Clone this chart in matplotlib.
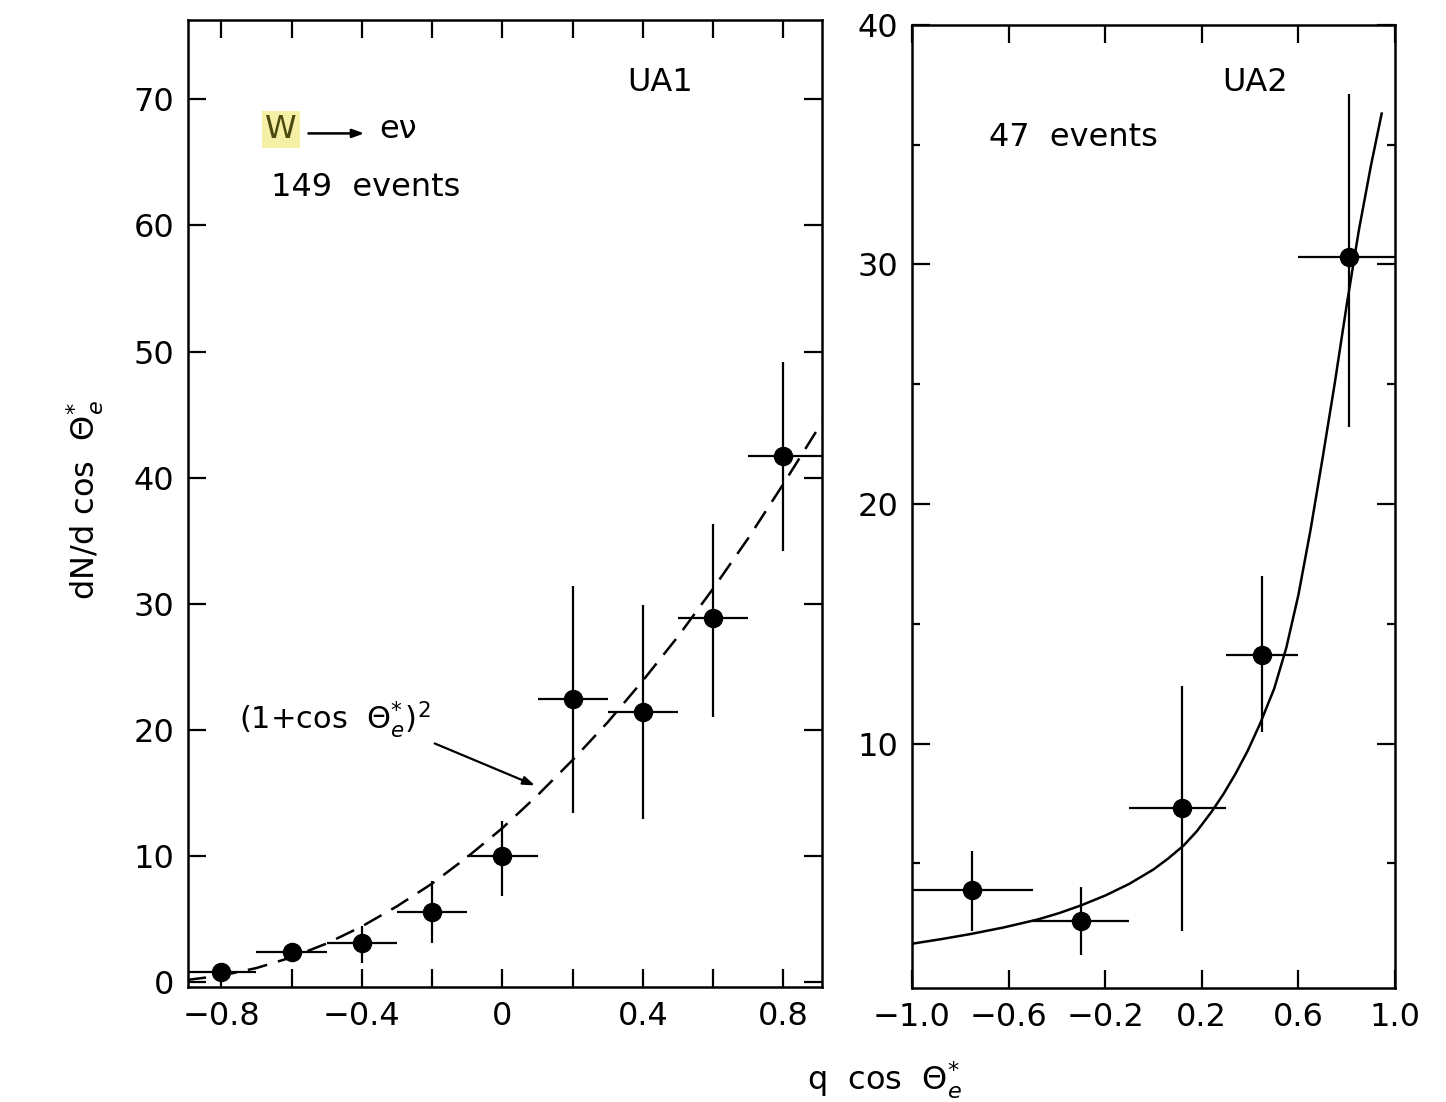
import matplotlib.pyplot as plt
import numpy as np

plt.rcParams['font.family'] = ['DejaVu Sans']
plt.rcParams['mathtext.fontset'] = 'dejavusans'

# UA1 data (left panel)
ua1_x = [-0.8, -0.6, -0.4, -0.2, 0.0, 0.2, 0.4, 0.6, 0.8]
ua1_y = [0.75, 2.35, 3.1, 5.55, 10.0, 22.4, 21.4, 28.9, 41.7]
ua1_ylo = [0.1, 1.6, 1.5, 3.1, 6.8, 13.4, 12.9, 21.0, 34.2]
ua1_yhi = [1.4, 3.0, 4.4, 8.0, 12.8, 31.4, 29.9, 36.3, 49.2]
ua1_xlo = [-0.9, -0.7, -0.5, -0.3, -0.1, 0.1, 0.3, 0.5, 0.7]
ua1_xhi = [-0.7, -0.5, -0.3, -0.1, 0.1, 0.3, 0.5, 0.7, 0.91]

# dashed (1+cos)^2 curve
ua1_curve_x = [-0.9, -0.8, -0.7, -0.6, -0.5, -0.4, -0.3, -0.2, -0.1, 0.0,
               0.1, 0.2, 0.3, 0.4, 0.5, 0.6, 0.7, 0.8, 0.91]
ua1_curve_y = [0.15, 0.5, 1.1, 1.95, 3.05, 4.4, 6.0, 7.8, 9.9, 12.2,
               14.8, 17.6, 20.6, 23.9, 27.4, 31.2, 35.2, 39.5, 44.4]

# UA2 data (right panel)
ua2_x = [-0.75, -0.30, 0.12, 0.45, 0.81]
ua2_y = [3.9, 2.6, 7.3, 13.7, 30.3]
ua2_ylo = [2.2, 1.2, 2.2, 10.5, 23.2]
ua2_yhi = [5.5, 4.0, 12.4, 17.0, 37.1]
ua2_xlo = [-1.0, -0.5, -0.1, 0.3, 0.6]
ua2_xhi = [-0.5, -0.1, 0.3, 0.6, 1.0]

# solid curve
ua2_curve_x = [-1.0, -0.88, -0.76, -0.62, -0.48, -0.39, -0.30, -0.20, -0.10,
               0.0, 0.06, 0.125, 0.18, 0.24, 0.29, 0.34, 0.39, 0.44, 0.50,
               0.55, 0.60, 0.65, 0.70, 0.75, 0.80, 0.85, 0.90, 0.945]
ua2_curve_y = [1.65, 1.84, 2.05, 2.33, 2.66, 2.93, 3.25, 3.66, 4.15,
               4.75, 5.2, 5.75, 6.35, 7.15, 7.9, 8.75, 9.7, 10.8, 12.3,
               14.0, 16.2, 18.9, 21.9, 25.0, 28.3, 31.4, 34.1, 36.3]

fig = plt.figure(figsize=(14.46, 11.02), dpi=100)
ax1 = fig.add_axes([0.130, 0.1044, 0.4385, 0.8775])
ax2 = fig.add_axes([0.6307, 0.1034, 0.334, 0.874])

fs = 23


def style(ax):
    for s in ax.spines.values():
        s.set_linewidth(1.8)
    ax.tick_params(which='both', direction='in', top=True, right=True,
                   labelsize=fs, width=1.6, pad=10)
    ax.tick_params(which='major', length=13)
    ax.tick_params(which='minor', length=6)


def draw(ax, x, y, ylo, yhi, xlo, xhi):
    x = np.array(x)
    y = np.array(y)
    yerr = [y - np.array(ylo), np.array(yhi) - y]
    xerr = [x - np.array(xlo), np.array(xhi) - x]
    ax.errorbar(x, y, yerr=yerr, xerr=xerr, fmt='o', color='black',
                markersize=13, elinewidth=1.6, capsize=0, zorder=3)


# left panel
style(ax1)
draw(ax1, ua1_x, ua1_y, ua1_ylo, ua1_yhi, ua1_xlo, ua1_xhi)
ax1.plot(ua1_curve_x, ua1_curve_y, color='black', linestyle=(0, (8, 4.5)),
         linewidth=1.8)
ax1.set_xlim(-0.895, 0.91)
ax1.set_ylim(-0.4, 76.3)
ax1.set_xticks([-0.8, -0.6, -0.4, -0.2, 0, 0.2, 0.4, 0.6, 0.8])
ax1.set_xticklabels(['\u22120.8', '', '\u22120.4', '', '0', '', '0.4', '', '0.8'])
ax1.set_yticks([0, 10, 20, 30, 40, 50, 60, 70])

ax1.text(0.45, 71.3, 'UA1', fontsize=fs, ha='center', va='center')
ax1.text(-0.675, 67.6, 'W', fontsize=fs, ha='left', va='center', color='#4a4a10',
         bbox=dict(boxstyle='square,pad=0.1', facecolor='#f6f0a6', edgecolor='none'))
ax1.annotate('', xy=(-0.385, 67.3), xytext=(-0.56, 67.3),
             arrowprops=dict(arrowstyle='-|>,head_length=0.7,head_width=0.25',
                             color='black', lw=1.8))
ax1.text(-0.35, 67.6, 'e\u03bd', fontsize=fs, ha='left', va='center')
ax1.text(-0.66, 63.0, '149  events', fontsize=fs, ha='left', va='center')

ax1.annotate('', xy=(0.10, 15.5), xytext=(-0.2, 19.0),
             arrowprops=dict(arrowstyle='-|>,head_length=0.7,head_width=0.25',
                             color='black', lw=1.6))
ax1.text(-0.75, 20.8, r'(1+cos  $\Theta_e^{*}$)$^2$', fontsize=fs - 1,
         ha='left', va='center')

# right panel
style(ax2)
draw(ax2, ua2_x, ua2_y, ua2_ylo, ua2_yhi, ua2_xlo, ua2_xhi)
ax2.plot(ua2_curve_x, ua2_curve_y, color='black', linewidth=1.8)
ax2.set_xlim(-1.0, 1.0)
ax2.set_ylim(-0.2, 40)
ax2.set_xticks([-1.0, -0.6, -0.2, 0.2, 0.6, 1.0])
ax2.set_xticklabels(['\u22121.0', '\u22120.6', '\u22120.2', '0.2', '0.6', '1.0'])
ax2.set_yticks([10, 20, 30, 40])
ax2.set_yticks([5, 15, 25, 35], minor=True)

ax2.text(0.42, 37.6, 'UA2', fontsize=fs, ha='center', va='center')
ax2.text(-0.68, 35.3, '47  events', fontsize=fs, ha='left', va='center')

fig.text(0.059, 0.546, r'dN/d cos  $\Theta_e^{*}$', fontsize=fs,
         rotation=90, ha='center', va='center')
fig.text(0.612, 0.02, r'q  cos  $\Theta_e^{*}$', fontsize=fs,
         ha='center', va='center')

fig.savefig('out.png', dpi=100)
